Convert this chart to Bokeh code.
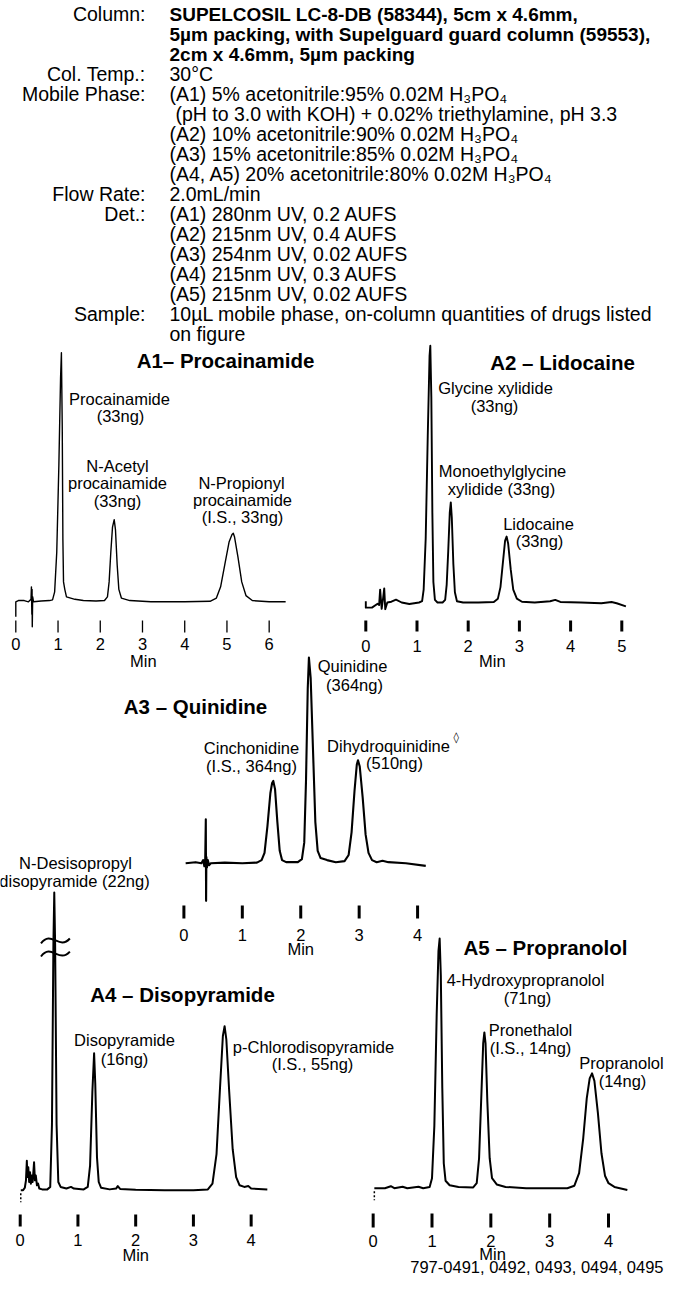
from bokeh.plotting import figure
from bokeh.models import Range1d, ColumnDataSource
from bokeh.embed import file_html
from bokeh.resources import INLINE
from bokeh.core.properties import value

# ---------------- data (time in min, signal in % of panel full scale) ----------------
A1_TIME = [0.00, 0.00, 0.06, 0.20, 0.30, 0.36, 0.37, 0.38, 0.385, 0.39, 0.40, 0.42, 0.60, 0.80,
           0.87, 0.92, 0.97, 1.02, 1.06, 1.08, 1.10, 1.115, 1.13, 1.16, 1.20, 1.40, 1.60, 1.90,
           2.10, 2.17, 2.21, 2.25, 2.29, 2.33, 2.36, 2.40, 2.44, 2.50, 2.70, 3.20, 4.00, 4.60,
           4.75, 4.85, 4.95, 5.05, 5.12, 5.15, 5.18, 5.26, 5.35, 5.45, 5.60, 6.00, 6.39]
A1_SIGNAL = [-6, 0, 0.5, 0.5, 0, 1, 6, -5, 5, -10, 2, 0, 0.3, 0.5,
             0.8, 4, 20, 55, 90, 100, 70, 25, 8, 5, 2, 1, 0.5, 0.3,
             0.5, 2, 8, 20, 30, 33, 29, 15, 5, 1.5, 0.5, 0, 0, 0.2,
             1.5, 6, 15, 24, 27, 27.5, 26, 18, 8, 2.5, 0.5, 0, 0]
A1_TICKS = [0, 1, 2, 3, 4, 5, 6]

A2_TIME = [0.00, 0.00, 0.12, 0.23, 0.26, 0.28, 0.31, 0.34, 0.36, 0.38, 0.42, 0.50, 0.59, 0.70,
           0.85, 1.04, 1.10, 1.13, 1.17, 1.21, 1.245, 1.26, 1.28, 1.30, 1.32, 1.35, 1.40, 1.50,
           1.55, 1.58, 1.61, 1.64, 1.66, 1.68, 1.71, 1.74, 1.78, 1.90, 2.20, 2.50, 2.58, 2.63,
           2.68, 2.72, 2.75, 2.78, 2.83, 2.88, 2.95, 3.05, 3.30, 3.60, 3.70, 3.80, 4.20, 4.60,
           4.80, 4.90, 5.08]
A2_SIGNAL = [0.5, -2, -2, -0.5, -1, 5, -2.5, 2, 5.5, -2.6, 0, 0.3, 1.1, 0,
             -0.6, 0, 0.5, 5, 25, 65, 96, 100, 80, 35, 8, 1, 0, 0,
             1, 7, 20, 35, 39, 33, 15, 4, 0.5, 0, 0, 0.2, 1.5, 6,
             16, 24, 25.7, 23, 13, 5, 1.5, 0.3, 0, 0.5, 1, 0.2, 0, -0.3,
             0.2, -0.3, -1.5]
A2_TICKS = [0, 1, 2, 3, 4, 5]

A3_TIME = [0.03, 0.20, 0.30, 0.33, 0.35, 0.365, 0.375, 0.38, 0.385, 0.395, 0.41, 0.43, 0.46,
           0.70, 1.00, 1.25, 1.33, 1.38, 1.43, 1.48, 1.51, 1.53, 1.56, 1.60, 1.64, 1.68, 1.75,
           1.95, 2.02, 2.06, 2.09, 2.12, 2.14, 2.17, 2.21, 2.25, 2.29, 2.34, 2.45, 2.60, 2.75,
           2.82, 2.87, 2.92, 2.96, 2.98, 3.01, 3.06, 3.11, 3.16, 3.22, 3.30, 3.40, 3.50, 3.80, 4.14]
A3_SIGNAL = [0, 0.5, 0, 1.5, -1.5, 2, 21.4, -18.3, 3, -2, 1.5, -1, 0,
             0.3, 0, 0.3, 1.5, 5, 18, 34, 39, 40, 36, 20, 6, 1.5, 0.5,
             0.5, 2, 10, 40, 85, 100, 90, 55, 20, 6, 2.5, 1.5, 0.5, 1,
             4, 15, 35, 48, 50, 47, 32, 14, 5, 1.5, 0.5, 1.2, 0.5, 0, -1.3]
A3_TICKS = [0, 1, 2, 3, 4]

A4_TIME = [0.01, 0.05, 0.08, 0.10, 0.115, 0.125, 0.14, 0.155, 0.17, 0.185, 0.20, 0.215, 0.23,
           0.24, 0.255, 0.27, 0.29, 0.31, 0.33, 0.38, 0.47, 0.52, 0.55, 0.575, 0.59, 0.605,
           0.63, 0.66, 0.70, 0.80, 0.88, 0.93, 1.10, 1.17, 1.21, 1.25, 1.28, 1.30, 1.33, 1.36,
           1.40, 1.55, 1.66, 1.69, 1.73, 2.00, 2.50, 3.00, 3.25, 3.33, 3.40, 3.46, 3.51, 3.54,
           3.57, 3.62, 3.68, 3.74, 3.80, 3.88, 3.95, 4.00, 4.28]
A4_SIGNAL = [0, 0, 1.5, 6, 18, 8, 14, 5, 11, 4, 9, 5, 12,
             17, 6, 9, 3, 4, 1, 0.5, 0.5, 2, 40, 150, 181.5, 150,
             40, 5, 2, 1, 2, 1, 0.5, 2, 15, 60, 83.5, 65, 20, 5,
             1.5, 0.5, 1, 2.5, 0.8, 0.3, 0, 0, 0.5, 4, 22, 62, 94, 100,
             92, 60, 25, 8, 3, 2, 2.5, 1, 0.5]
A4_TICKS = [0, 1, 2, 3, 4]
A4_BREAK_T = 0.59            # retention time of the off-scale peak
A4_BREAK_LEVELS = [152, 144]  # signal levels of the axis-break marks

A5_TIME = [0.02, 0.20, 0.30, 0.36, 0.50, 0.58, 0.77, 0.85, 0.96, 1.00, 1.04, 1.08, 1.11, 1.13,
           1.15, 1.175, 1.20, 1.23, 1.30, 1.45, 1.70, 1.76, 1.80, 1.84, 1.87, 1.89, 1.91, 1.94,
           1.98, 2.02, 2.10, 2.25, 2.60, 3.30, 3.42, 3.50, 3.57, 3.63, 3.68, 3.72, 3.76, 3.82,
           3.88, 3.94, 4.00, 4.10, 4.32]
A5_SIGNAL = [0, 0, 0.8, 0, 0.6, 0, 0.6, 0, 0.5, 4, 25, 70, 95, 100,
             85, 40, 10, 3, 1.2, 0.5, 0.3, 2, 12, 38, 58, 62.4, 58, 35,
             12, 4, 1.5, 0.5, 0, 0, 1, 6, 20, 36, 44, 46, 43, 30,
             14, 5, 2, 0.5, -0.7]
A5_TICKS = [0, 1, 2, 3, 4]

HEADER_LABELS = ["Column:", "", "", "Col. Temp.:", "Mobile Phase:", "", "", "", "",
                 "Flow Rate:", "Det.:", "", "", "", "", "Sample:", ""]
HEADER_VALUES = [
    "SUPELCOSIL LC-8-DB (58344), 5cm x 4.6mm,",
    "5µm packing, with Supelguard guard column (59553),",
    "2cm x 4.6mm, 5µm packing",
    "30°C",
    "(A1) 5% acetonitrile:95% 0.02M H₃PO₄",
    "(pH to 3.0 with KOH) + 0.02% triethylamine, pH 3.3",
    "(A2) 10% acetonitrile:90% 0.02M H₃PO₄",
    "(A3) 15% acetonitrile:85% 0.02M H₃PO₄",
    "(A4, A5) 20% acetonitrile:80% 0.02M H₃PO₄",
    "2.0mL/min",
    "(A1) 280nm UV, 0.2 AUFS",
    "(A2) 215nm UV, 0.4 AUFS",
    "(A3) 254nm UV, 0.02 AUFS",
    "(A4) 215nm UV, 0.3 AUFS",
    "(A5) 215nm UV, 0.02 AUFS",
    "10µL mobile phase, on-column quantities of drugs listed",
    "on figure",
]
HEADER_BOLD = [True, True, True] + [False] * 14

TITLES = ["A1– Procainamide", "A2 – Lidocaine", "A3 – Quinidine", "A4 – Disopyramide", "A5 – Propranolol"]
PEAK_LABELS = {
    "a1": ["Procainamide", "(33ng)", "N-Acetyl", "procainamide", "(33ng)",
           "N-Propionyl", "procainamide", "(I.S., 33ng)"],
    "a2": ["Glycine xylidide", "(33ng)", "Monoethylglycine", "xylidide (33ng)", "Lidocaine", "(33ng)"],
    "a3": ["Quinidine", "(364ng)", "Cinchonidine", "(I.S., 364ng)", "Dihydroquinidine", "(510ng)"],
    "a4": ["N-Desisopropyl", "disopyramide (22ng)", "Disopyramide", "(16ng)",
           "p-Chlorodisopyramide", "(I.S., 55ng)"],
    "a5": ["4-Hydroxypropranolol", "(71ng)", "Pronethalol", "(I.S., 14ng)", "Propranolol", "(14ng)"],
}
CATALOG = "797-0491, 0492, 0493, 0494, 0495"

# ---------------- layout (page pixel positions) ----------------
W, H = 665, 1277
X_LO, X_HI, Y_LO, Y_HI = 8, 8 + W, 8, 8 + H
FONT = value("Liberation Sans")

PANELS = {
    "a1": dict(t=A1_TIME, v=A1_SIGNAL, ticks=A1_TICKS, x0=23.3, s=42.23, yb=609.3, k=2.49,
               tick_y=(628, 640), tick_w=1.3, lab_y=651, min_y=668, min_t=3.02, lw=1.4, start_mark=False),
    "a2": dict(t=A2_TIME, v=A2_SIGNAL, ticks=A2_TICKS, x0=373.3, s=51.2, yb=610.0, k=2.567,
               tick_y=(628, 639), tick_w=3, lab_y=653, min_y=668, min_t=2.47, lw=1.9, start_mark=False),
    "a3": dict(t=A3_TIME, v=A3_SIGNAL, ticks=A3_TICKS, x0=191.4, s=58.42, yb=870.7, k=2.057,
               tick_y=(913, 926), tick_w=3, lab_y=942, min_y=956, min_t=2.0, lw=2.1, start_mark=False),
    "a4": dict(t=A4_TIME, v=A4_SIGNAL, ticks=A4_TICKS, x0=27.7, s=57.74, yb=1197.7, k=1.64,
               tick_y=(1222, 1234), tick_w=3, lab_y=1247, min_y=1262, min_t=2.0, lw=2.0, start_mark=True),
    "a5": dict(t=A5_TIME, v=A5_SIGNAL, ticks=A5_TICKS, x0=380.66, s=58.84, yb=1195.7, k=2.497,
               tick_y=(1221, 1235), tick_w=3, lab_y=1248, min_y=1261, min_t=2.03, lw=2.0, start_mark=True),
}
TITLE_POS = [(233, 368), (570, 370), (203, 714), (190, 1002), (553, 955)]
LABEL_POS = {
    "a1": [(127, 406), (128, 423), (125, 473), (125, 490), (125, 508), (249, 490), (250, 507), (250, 524)],
    "a2": [(503, 395), (502, 413), (510, 478), (509, 496), (546, 531), (547, 548)],
    "a3": [(360, 673), (362, 692), (259, 755), (259, 773), (396, 753), (402, 770)],
    "a4": [(83, 870), (82, 888), (132, 1047), (132, 1066), (321, 1054), (320, 1071)],
    "a5": [(533, 987), (535, 1005), (538, 1037), (538, 1055), (629, 1070), (630, 1088)],
}
HEADER_X_LABEL, HEADER_X_VALUE, HEADER_Y0, HEADER_PITCH = 153, 177, 21.7, 20
HEADER_INDENT = [0, 0, 0, 0, 0, 6, 0, 0, 0, 0, 0, 0, 0, 0, 0, 0, 0]
CATALOG_POS = (671, 1274)

p = figure(width=W, height=H, x_range=Range1d(X_LO, X_HI), y_range=Range1d(Y_HI, Y_LO),
           output_backend="svg", toolbar_location=None, x_axis_location=None, y_axis_location=None,
           min_border=0, outline_line_color=None, background_fill_color="white",
           border_fill_color="white")
p.grid.grid_line_color = None

for name, g in PANELS.items():
    p.extra_x_ranges[name] = Range1d((X_LO - g["x0"]) / g["s"], (X_HI - g["x0"]) / g["s"])
    p.extra_y_ranges[name] = Range1d((g["yb"] - Y_HI) / g["k"], (g["yb"] - Y_LO) / g["k"])
    src = ColumnDataSource(dict(t=g["t"], v=g["v"]))
    p.line("t", "v", source=src, x_range_name=name, y_range_name=name,
           line_color="black", line_width=g["lw"], line_join="round")
    n = len(g["ticks"])
    p.segment(x0=g["ticks"], x1=g["ticks"], y0=[g["tick_y"][0]] * n, y1=[g["tick_y"][1]] * n,
              x_range_name=name, line_color="black", line_width=g["tick_w"])
    p.text(x=g["ticks"], y=[g["lab_y"]] * n, text=[str(t) for t in g["ticks"]], x_range_name=name,
           text_align="center", text_baseline="middle", text_font=FONT, text_font_size="16.5px",
           text_color="black")
    p.text(x=[g["min_t"]], y=[g["min_y"]], text=["Min"], x_range_name=name,
           text_align="center", text_baseline="middle", text_font=FONT, text_font_size="16.5px",
           text_color="black")
    if g["start_mark"]:
        p.segment(x0=[g["t"][0]], x1=[g["t"][0]], y0=[g["yb"] + 3], y1=[g["yb"] + 12],
                  x_range_name=name, line_color="black", line_width=1.5, line_dash="2 2")
    xs = [xy[0] for xy in LABEL_POS[name]]
    ys = [xy[1] for xy in LABEL_POS[name]]
    p.text(x=xs, y=ys, text=PEAK_LABELS[name], text_align="center", text_baseline="middle",
           text_font=FONT, text_font_size="16.5px", text_color="black")

# axis-break marks on the off-scale A4 peak
for lvl in A4_BREAK_LEVELS:
    p.bezier(x0=[A4_BREAK_T - 0.23], y0=[lvl - 1.5], x1=[A4_BREAK_T + 0.27], y1=[lvl + 1.5],
             cx0=[A4_BREAK_T - 0.05], cy0=[lvl + 7], cx1=[A4_BREAK_T + 0.08], cy1=[lvl - 6],
             x_range_name="a4", y_range_name="a4", line_color="black", line_width=2)

# diamond footnote mark on Dihydroquinidine
p.text(x=[461], y=[745], text=["◊"], text_align="left", text_baseline="middle",
       text_font=value("DejaVu Sans"), text_font_size="11px", text_color="black")

# titles
p.text(x=[xy[0] for xy in TITLE_POS], y=[xy[1] for xy in TITLE_POS], text=TITLES,
       text_align="center", text_baseline="middle", text_font=FONT, text_font_size="20.5px",
       text_font_style="bold", text_color="black")

# header block
hy = [HEADER_Y0 + HEADER_PITCH * i for i in range(len(HEADER_VALUES))]
p.text(x=[HEADER_X_LABEL] * len(HEADER_LABELS), y=hy, text=HEADER_LABELS, text_align="right",
       text_baseline="middle", text_font=FONT, text_font_size="19.5px", text_color="black")
for bold in (True, False):
    idx = [i for i, b in enumerate(HEADER_BOLD) if b == bold]
    p.text(x=[HEADER_X_VALUE + HEADER_INDENT[i] for i in idx], y=[hy[i] for i in idx],
           text=[HEADER_VALUES[i] for i in idx],
           text_align="left", text_baseline="middle", text_font=FONT,
           text_font_size="19px" if bold else "19.5px",
           text_font_style="bold" if bold else "normal", text_color="black")

p.text(x=[CATALOG_POS[0]], y=[CATALOG_POS[1]], text=[CATALOG], text_align="right",
       text_baseline="middle", text_font=FONT, text_font_size="16.5px", text_color="black")

open("out.html", "w").write(file_html(p, INLINE))
